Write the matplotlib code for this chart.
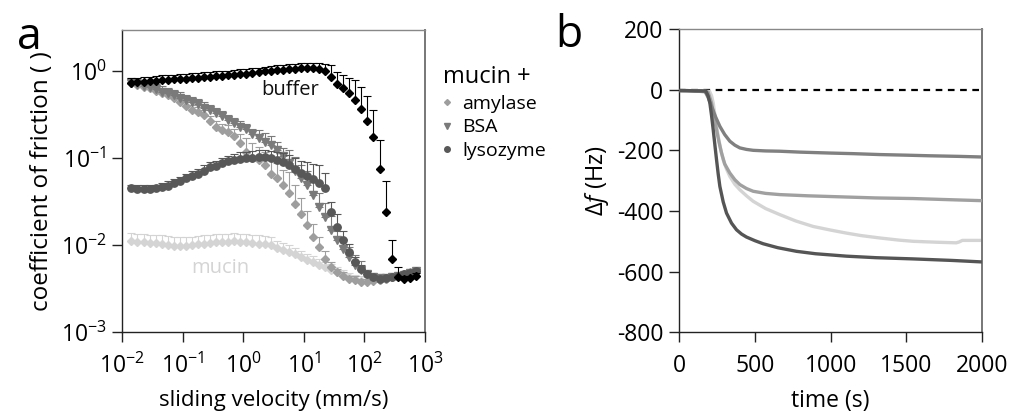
import numpy as np
import matplotlib
matplotlib.use("Agg")
import matplotlib.pyplot as plt
from matplotlib.lines import Line2D
from matplotlib.ticker import FixedLocator, NullLocator, FuncFormatter

plt.rcParams['font.family'] = ['Open Sans', 'DejaVu Sans']
plt.rcParams['mathtext.fontset'] = 'custom'
plt.rcParams['mathtext.rm'] = 'Open Sans'
plt.rcParams['mathtext.it'] = 'Open Sans:italic'
plt.rcParams['axes.unicode_minus'] = False

# ---------------- Panel a data ----------------
velocity = [0.0141, 0.0178, 0.0224, 0.0282, 0.0355, 0.0447, 0.0562, 0.0708, 0.0891, 0.112,
            0.141, 0.178, 0.224, 0.282, 0.355, 0.447, 0.562, 0.708, 0.891, 1.12,
            1.41, 1.78, 2.24, 2.82, 3.55, 4.47, 5.62, 7.08, 8.91, 11.2,
            14.1, 17.8, 22.4, 28.2, 35.5, 44.7, 56.2, 70.8, 89.1, 112,
            141, 178, 224, 282, 355, 447, 562, 708]

buffer_mu = [0.74, 0.75, 0.76, 0.77, 0.78, 0.79, 0.80, 0.81, 0.82, 0.83,
             0.84, 0.85, 0.86, 0.87, 0.88, 0.89, 0.90, 0.91, 0.93, 0.94,
             0.96, 0.98, 1.00, 1.02, 1.04, 1.05, 1.07, 1.08, 1.09, 1.09,
             1.09, 1.06, 1.00, 0.875, 0.714, 0.642, 0.562, 0.471, 0.367, 0.27,
             0.175, 0.0746, 0.0243, 0.0070, 0.0043, 0.0041, 0.0042, 0.0045]
buffer_err = [0.10, 0.10, 0.10, 0.10, 0.10, 0.11, 0.11, 0.11, 0.11, 0.11,
              0.11, 0.12, 0.12, 0.12, 0.12, 0.12, 0.12, 0.12, 0.13, 0.13,
              0.13, 0.13, 0.14, 0.14, 0.14, 0.14, 0.15, 0.15, 0.15, 0.16,
              0.16, 0.18, 0.23, 0.31, 0.26, 0.27, 0.28, 0.33, 0.30, 0.25,
              0.19, 0.088, 0.030, 0.0046, 0.0013, 0.0003, 0.0003, 0.0003]

amylase_mu = [0.73, 0.70, 0.67, 0.64, 0.60, 0.56, 0.53, 0.49, 0.45, 0.40,
              0.36, 0.34, 0.32, 0.27, 0.23, 0.21, 0.20, 0.18, 0.15, 0.12,
              0.10, 0.096, 0.084, 0.067, 0.059, 0.049, 0.040, 0.030, 0.023, 0.017,
              0.0125, 0.0096, 0.0070, 0.0056, 0.0049, 0.0045, 0.0041, 0.0040, 0.0038, 0.0038,
              0.0039, 0.0040, 0.0041, 0.0043, 0.0045, 0.0047, 0.0049, 0.0051]
amylase_err = [0.08, 0.08, 0.07, 0.07, 0.07, 0.06, 0.06, 0.06, 0.05, 0.05,
               0.05, 0.05, 0.04, 0.04, 0.04, 0.04, 0.04, 0.04, 0.04, 0.05,
               0.05, 0.04, 0.035, 0.03, 0.03, 0.025, 0.03, 0.02, 0.012, 0.008,
               0.005, 0.003, 0.0015, 0.0008, 0.0005, 0.0004, 0.0004, 0.0004, 0.0003, 0.0003,
               0.0003, 0.0003, 0.0003, 0.0003, 0.0003, 0.0003, 0.0003, 0.0003]

bsa_mu = [0.733, 0.714, 0.689, 0.659, 0.625, 0.588, 0.562, 0.538, 0.501, 0.471,
          0.447, 0.420, 0.384, 0.361, 0.331, 0.308, 0.277, 0.253, 0.232, 0.216,
          0.191, 0.170, 0.156, 0.143, 0.125, 0.106, 0.0875, 0.0721, 0.0588, 0.0492,
          0.0378, 0.0277, 0.0212, 0.0149, 0.0114, 0.00916, 0.00733, 0.00588, 0.00515, 0.00463,
          0.00431, 0.0042, 0.0042, 0.00431, 0.00443, 0.00459, 0.0048, 0.00506]
bsa_err = [0.11, 0.11, 0.10, 0.10, 0.09, 0.09, 0.08, 0.08, 0.075, 0.07,
           0.067, 0.063, 0.058, 0.054, 0.05, 0.046, 0.042, 0.038, 0.035, 0.032,
           0.029, 0.043, 0.039, 0.036, 0.031, 0.027, 0.039, 0.032, 0.026, 0.022,
           0.017, 0.012, 0.0095, 0.0067, 0.0034, 0.0027, 0.0022, 0.0018, 0.0015, 0.0004,
           0.0003, 0.0003, 0.0003, 0.0003, 0.0003, 0.0003, 0.0003, 0.0003]

lysozyme_mu = [0.0451, 0.0447, 0.0443, 0.0443, 0.0451, 0.0467, 0.0488, 0.0519, 0.0548, 0.0588,
               0.0625, 0.0659, 0.0721, 0.0787, 0.0816, 0.0875, 0.0923, 0.0966, 0.0991, 0.100,
               0.102, 0.1036, 0.1045, 0.102, 0.0957, 0.0916, 0.0838, 0.0746, 0.0684, 0.0625,
               0.0573, 0.0515, 0.0451, 0.0243, 0.0163, 0.0114, 0.00838, 0.00643, 0.00538, 0.00471,
               0.00431, 0.00412, 0.00416, 0.00431, 0.00443, 0.00463, 0.00484, 0.00506]
lysozyme_err = [0.005, 0.005, 0.005, 0.005, 0.005, 0.005, 0.006, 0.006, 0.007, 0.008,
                0.009, 0.010, 0.011, 0.012, 0.013, 0.014, 0.015, 0.016, 0.018, 0.019,
                0.020, 0.020, 0.020, 0.020, 0.022, 0.025, 0.026, 0.026, 0.024, 0.028,
                0.030, 0.032, 0.022, 0.0073, 0.0068, 0.0034, 0.0021, 0.0009, 0.0005, 0.0003,
                0.0003, 0.0003, 0.0003, 0.0003, 0.0003, 0.0003, 0.0003, 0.0003]

mucin_mu = [0.0112, 0.0110, 0.01083, 0.01073, 0.01054, 0.01045, 0.01018, 0.0099, 0.00973, 0.0098,
            0.0100, 0.01036, 0.01045, 0.01063, 0.01083, 0.0109, 0.0110, 0.0111, 0.0110, 0.01083,
            0.01063, 0.01045, 0.01027, 0.0100, 0.0094, 0.0089, 0.00838, 0.00787, 0.00733, 0.00684,
            0.00637, 0.00598, 0.00562, 0.00524, 0.00488, 0.00459, 0.00431, 0.00405, 0.00391, 0.00388,
            0.00395, 0.00402, 0.00412, 0.00427, 0.00443, 0.00463, 0.00484, 0.00506]
mucin_err = [0.0026, 0.0026, 0.0026, 0.0026, 0.0026, 0.0026, 0.0026, 0.0026, 0.0026, 0.0026,
             0.0026, 0.0026, 0.0026, 0.0026, 0.0026, 0.0026, 0.0026, 0.0026, 0.0026, 0.0026,
             0.0026, 0.0026, 0.0026, 0.0026, 0.0019, 0.0018, 0.0016, 0.0015, 0.0013, 0.0012,
             0.0011, 0.0010, 0.0009, 0.0008, 0.0007, 0.0006, 0.0005, 0.0005, 0.0005, 0.0005,
             0.0005, 0.0005, 0.0005, 0.0005, 0.0005, 0.0005, 0.0005, 0.0005]

legend_labels = ['amylase', 'BSA', 'lysozyme']
xtick_vals_a = [1e-2, 1e-1, 1e0, 1e1, 1e2, 1e3]
ytick_vals_a = [1e-3, 1e-2, 1e-1, 1e0]

# ---------------- Panel b data ----------------
t_dark = [0, 50, 100, 150, 176, 190, 202, 213, 224, 235, 246, 257, 268, 290, 312, 345, 378, 411,
          444, 500, 554, 650, 774, 900, 1105, 1300, 1545, 1800, 2000]
f_dark = [-3, -3, -4, -4, -5, -20, -44, -85, -132, -182, -231, -278, -319, -370, -407, -440, -462, -476,
          -486, -498, -508, -521, -533, -541, -549, -554, -558, -563, -568]
t_mid = [0, 100, 169, 190, 213, 240, 268, 300, 334, 367, 400, 444, 488, 570, 664, 800, 995, 1150,
         1325, 1500, 1655, 1850, 2000]
f_mid = [-3, -4, -5, -25, -55, -90, -121, -148, -170, -183, -192, -197, -200, -202, -203, -206, -209, -211,
         -214, -216, -218, -220, -222]
t_med = [0, 100, 190, 213, 230, 246, 262, 279, 300, 334, 367, 400, 444, 488, 570, 664, 850, 1105,
         1300, 1545, 1800, 2000]
f_med = [-3, -4, -8, -44, -90, -132, -172, -209, -245, -275, -297, -313, -326, -335, -342, -346, -350, -354,
         -357, -359, -363, -366]
t_light = [0, 100, 200, 213, 224, 240, 257, 273, 290, 312, 334, 367, 400, 444, 488, 570, 664, 770,
           884, 1000, 1105, 1200, 1325, 1450, 1545, 1700, 1830, 1850, 1870, 2000]
f_light = [-3, -4, -6, -20, -44, -100, -154, -195, -231, -262, -286, -312, -330, -350, -368, -392, -412, -433,
           -451, -463, -473, -481, -489, -496, -500, -503, -505, -502, -497, -497]
baseline_t = [0, 2000]
baseline_f = [0, 0]

# ---------------- Styles ----------------
c_buffer = '#000000'
c_amylase = '#9e9e9e'
c_bsa = '#7a7a7a'
c_lyso = '#585858'
c_mucin = '#d4d4d4'

fig = plt.figure(figsize=(10.11, 4.11), dpi=100)
W, H = 1011, 411
axa = fig.add_axes([122.3 / W, 1 - 332.3 / H, (425 - 122.3) / W, (332.3 - 30) / H])
axb = fig.add_axes([679.3 / W, 1 - 332.3 / H, (982 - 679.3) / W, (332.3 - 29) / H])

def eb(ax, y, err, color, marker, ms, z):
    ax.errorbar(velocity, y, yerr=[np.zeros(len(err)), err], fmt=marker, color=color,
                ms=ms, mec=color, mfc=color, ecolor=color, elinewidth=0.8, capsize=3,
                capthick=0.8, zorder=z)

eb(axa, mucin_mu, mucin_err, c_mucin, 'D', 4.4, 2)
eb(axa, amylase_mu, amylase_err, c_amylase, 'D', 4.4, 3)
eb(axa, bsa_mu, bsa_err, c_bsa, 'v', 5.6, 4)
eb(axa, lysozyme_mu, lysozyme_err, c_lyso, 'o', 5.3, 5)
eb(axa, buffer_mu, buffer_err, c_buffer, 'D', 4.4, 6)

axa.set_xscale('log')
axa.set_yscale('log')
axa.set_xlim(1e-2, 1e3)
axa.set_ylim(1e-3, 3.0)
axa.xaxis.set_major_locator(FixedLocator(xtick_vals_a))
axa.yaxis.set_major_locator(FixedLocator(ytick_vals_a))
axa.xaxis.set_minor_locator(NullLocator())
axa.yaxis.set_minor_locator(NullLocator())
fmt = FuncFormatter(lambda v, p: r'$\mathdefault{10^{%d}}$' % int(round(np.log10(v))))
axa.xaxis.set_major_formatter(fmt)
axa.yaxis.set_major_formatter(fmt)
axa.set_xlabel('sliding velocity (mm/s)', fontsize=16, labelpad=8)
axa.set_ylabel('coefficient of friction ( )', fontsize=17.5, labelpad=5)
axa.text(10 ** 0.77, 0.62, 'buffer', ha='center', va='center', fontsize=14.5, color='#111111')
axa.text(10 ** -0.385, 10 ** -2.26, 'mucin', ha='center', va='center', fontsize=14.5, color=c_mucin)

handles = [Line2D([], [], ls='none', marker='D', ms=3.0, color=c_amylase),
           Line2D([], [], ls='none', marker='v', ms=4.0, color=c_bsa),
           Line2D([], [], ls='none', marker='o', ms=4.0, color=c_lyso)]
leg = axa.legend(handles, legend_labels, title='mucin +', loc='upper left',
                 bbox_to_anchor=(1.058, 0.885), frameon=False, fontsize=14, title_fontsize=17,
                 handlelength=0.5, handletextpad=0.5, labelspacing=0.3, borderpad=0,
                 borderaxespad=0, alignment='left')

# ---------------- Panel b ----------------
axb.plot(baseline_t, baseline_f, ls=(0, (3, 2.5)), color='black', lw=1.6, zorder=1)
axb.plot(t_light, f_light, color='#d4d4d4', lw=2.4, zorder=2, solid_capstyle='butt')
axb.plot(t_med, f_med, color='#a0a0a0', lw=2.4, zorder=3, solid_capstyle='butt')
axb.plot(t_mid, f_mid, color='#808080', lw=2.4, zorder=4, solid_capstyle='butt')
axb.plot(t_dark, f_dark, color='#555555', lw=2.4, zorder=5, solid_capstyle='butt')
axb.set_xlim(0, 2000)
axb.set_ylim(-800, 200)
axb.set_xticks([0, 500, 1000, 1500, 2000])
axb.set_yticks([-800, -600, -400, -200, 0, 200])
axb.set_xlabel('time (s)', fontsize=16.5, labelpad=8)
axb.set_ylabel(r'$\Delta\mathit{f}$ (Hz)', fontsize=17, labelpad=4)

for ax in (axa, axb):
    ax.tick_params(axis='both', which='major', direction='out', length=7.5, width=1.0,
                   labelsize=16.5, top=False, right=False, pad=4, color='#222222')
    ax.tick_params(axis='x', pad=8)
    ax.spines['left'].set_linewidth(1.0)
    ax.spines['bottom'].set_linewidth(1.0)
    ax.spines['left'].set_color('#222222')
    ax.spines['bottom'].set_color('#222222')
    ax.spines['top'].set_color('#888888')
    ax.spines['right'].set_color('#777777')
    ax.spines['top'].set_linewidth(1.0)
    ax.spines['right'].set_linewidth(1.4)

fig.text(29 / W, 1 - 38 / H, 'a', fontsize=32, ha='center', va='center')
fig.text(569 / W, 1 - 36 / H, 'b', fontsize=32, ha='center', va='center')

fig.savefig('out.png', dpi=100)
